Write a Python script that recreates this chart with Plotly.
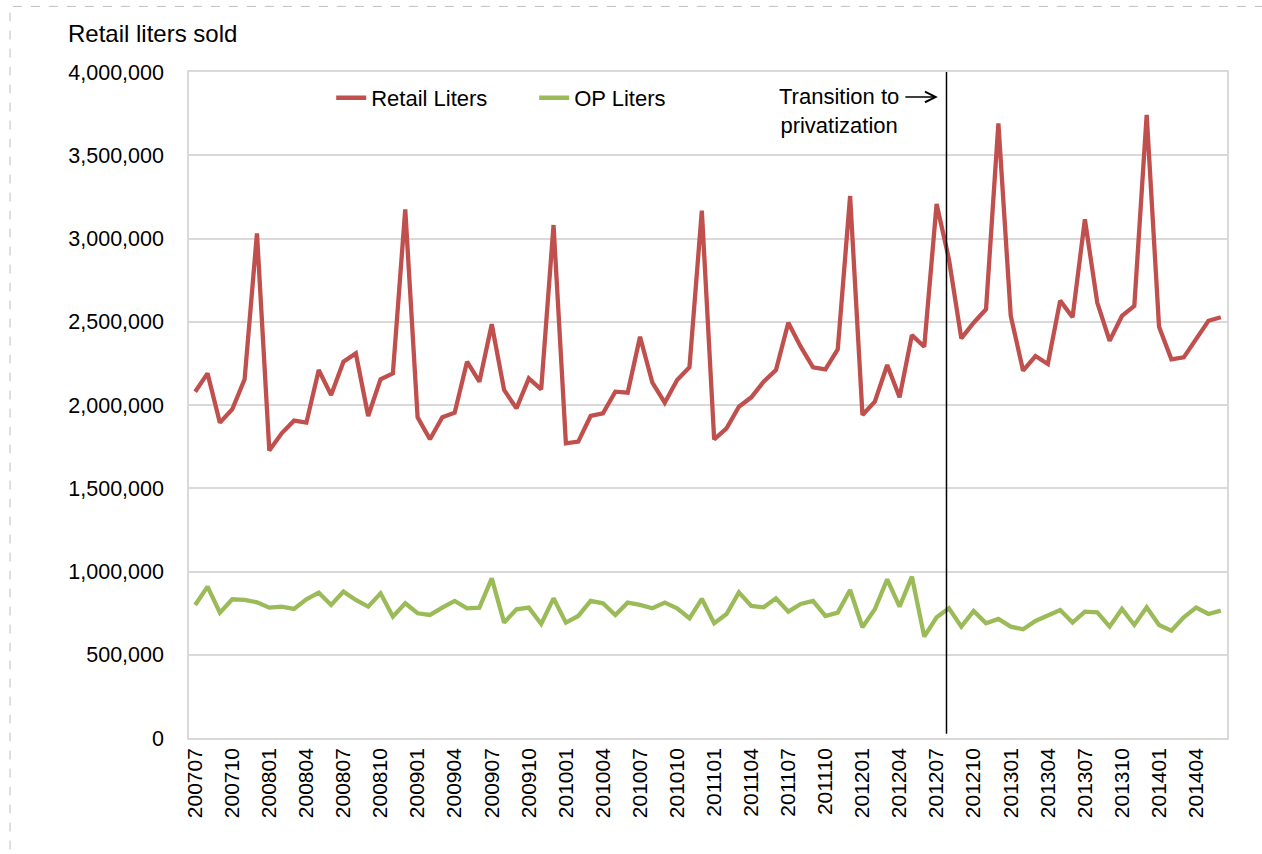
import plotly.graph_objects as go

# Monthly periods, July 2007 through June 2014
months = [f"{y}{m:02d}" for y in range(2007, 2015) for m in range(1, 13)]
months = months[months.index("200707"):months.index("201406") + 1]

retail_liters = [
    2080000, 2190000, 1894000, 1974000, 2154000, 3031000, 1726000, 1830000, 1906000, 1894000,
    2210000, 2060000, 2260000, 2310000, 1934000, 2154000, 2190000, 3175000, 1926000, 1794000,
    1926000, 1954000, 2260000, 2140000, 2485000, 2090000, 1980000, 2160000, 2094000, 3081000,
    1770000, 1780000, 1934000, 1950000, 2080000, 2074000, 2410000, 2134000, 2014000, 2150000,
    2226000, 3167000, 1794000, 1860000, 1990000, 2046000, 2140000, 2210000, 2494000, 2350000,
    2226000, 2214000, 2334000, 3255000, 1940000, 2020000, 2240000, 2046000, 2420000, 2350000,
    3207000, 2875000, 2400000, 2494000, 2575000, 3692000, 2535000, 2206000, 2294000, 2246000,
    2627000, 2527000, 3115000, 2615000, 2386000, 2535000, 2595000, 3742000, 2470000, 2274000,
    2286000, 2394000, 2506000, 2527000,
]

op_liters = [
    799000, 909000, 753000, 833000, 829000, 815000, 783000, 789000, 775000, 833000,
    873000, 799000, 879000, 829000, 789000, 869000, 729000, 809000, 749000, 739000,
    783000, 823000, 779000, 783000, 959000, 693000, 773000, 783000, 685000, 839000,
    693000, 733000, 823000, 809000, 739000, 813000, 799000, 779000, 813000, 779000,
    719000, 836000, 689000, 745000, 875000, 793000, 785000, 839000, 759000, 805000,
    823000, 733000, 753000, 889000, 665000, 773000, 953000, 789000, 969000, 609000,
    725000, 779000, 669000, 763000, 689000, 715000, 669000, 653000, 703000, 733000,
    769000, 693000, 759000, 755000, 669000, 775000, 679000, 785000, 679000, 645000,
    725000, 783000, 745000, 765000,
]

tick_labels = months[::3]
y_ticks = list(range(0, 4000001, 500000))

transition_month = "201208"
transition_pos = months.index(transition_month) - 0.2

FONT = "Liberation Sans, Arial, sans-serif"
GRID = "#d9d9d9"

fig = go.Figure()
fig.add_trace(go.Scatter(
    x=months, y=retail_liters, mode="lines", name="Retail Liters",
    line=dict(color="#c0504d", width=4.3, shape="linear"),
))
fig.add_trace(go.Scatter(
    x=months, y=op_liters, mode="lines", name="OP Liters",
    line=dict(color="#9bbb59", width=4.3, shape="linear"),
))

# Vertical marker for the transition
fig.add_shape(
    type="line", xref="x", yref="y",
    x0=transition_pos, x1=transition_pos, y0=25000, y1=4000000,
    line=dict(color="black", width=1.5),
)

fig.add_annotation(
    xref="x", yref="y", x=transition_pos - 8.7, y=3765000,
    text="Transition to<br>privatization", showarrow=False,
    font=dict(family=FONT, size=22, color="black"), align="center",
)
fig.add_annotation(
    xref="x", yref="y", x=transition_pos - 0.7, y=3850000,
    text="", showarrow=True, arrowhead=5, arrowsize=1.6, arrowwidth=1.3,
    arrowcolor="black", ax=-34, ay=0, axref="pixel", ayref="pixel",
)

fig.add_annotation(
    xref="paper", yref="paper", x=-0.1185, y=1.058, xanchor="left", yanchor="middle",
    text="Retail liters sold", showarrow=False,
    font=dict(family=FONT, size=24, color="black"),
)

# Dashed frame around the whole chart
fig.add_shape(
    type="rect", xref="paper", yref="paper",
    x0=-0.1724, x1=1.05, y0=-0.19, y1=1.0985,
    line=dict(color="#bfbfbf", width=1, dash="dash"), layer="below",
)

fig.update_layout(
    width=1262, height=854,
    margin=dict(l=189, r=35, t=72, b=116),
    paper_bgcolor="white", plot_bgcolor="white",
    font=dict(family=FONT, size=21, color="black"),
    showlegend=True,
    legend=dict(
        orientation="h", x=0.137, y=0.961, xanchor="left", yanchor="middle",
        font=dict(family=FONT, size=22, color="black"),
        bgcolor="rgba(0,0,0,0)", itemwidth=30,
        entrywidth=158, entrywidthmode="pixels",
    ),
)

fig.update_xaxes(
    type="category", categoryorder="array", categoryarray=months,
    range=[-0.5, len(months) - 0.5],
    tickmode="array", tickvals=tick_labels, ticktext=tick_labels,
    tickangle=-90, showgrid=False, zeroline=False,
    showline=True, linecolor=GRID, linewidth=1.5, mirror=True,
    ticks="", tickfont=dict(family=FONT, size=21, color="black"),
)
fig.update_yaxes(
    range=[0, 4000000], tickmode="array", tickvals=y_ticks,
    tickformat=",", showgrid=True, gridcolor=GRID, gridwidth=1.5,
    zeroline=False, showline=True, linecolor=GRID, linewidth=1.5, mirror=True,
    ticks="", ticklabelstandoff=19,
    tickfont=dict(family=FONT, size=21.5, color="black"),
)

fig.write_html("out.html")
